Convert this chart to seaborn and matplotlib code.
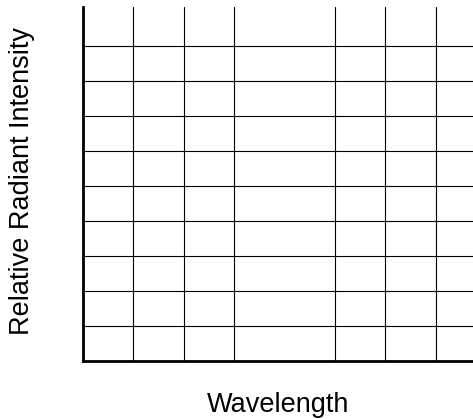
import matplotlib
matplotlib.use("Agg")
import matplotlib.pyplot as plt
import seaborn as sns

# Chart content: an empty spectral grid
x_label = "Wavelength"
y_label = "Relative Radiant Intensity"
x_grid = [1, 2, 3, 5, 6, 7]
y_grid = [1, 2, 3, 4, 5, 6, 7, 8, 9]
x_range = [0, 7.74]
y_range = [0, 10.11]

sns.set_theme(style="white")
plt.rcParams['font.family'] = ['Liberation Sans', 'DejaVu Sans']

fig = plt.figure(figsize=(4.73, 4.19), dpi=100)
ax = fig.add_axes([83 / 473, (419 - 361) / 419, 1 - 83 / 473, (361 - 7) / 419])

ax.set_xlim(*x_range)
ax.set_ylim(*y_range)
ax.set_xticks(x_grid)
ax.set_yticks(y_grid)
ax.tick_params(length=0, labelbottom=False, labelleft=False)
ax.grid(True, color="black", linewidth=0.8)

for side in ["top", "right"]:
    ax.spines[side].set_visible(False)
for side in ["left", "bottom"]:
    ax.spines[side].set_color("black")
    ax.spines[side].set_linewidth(2.0)

ax.set_xlabel(x_label, fontsize=19.5, color="black", labelpad=22)
ax.set_ylabel(y_label, fontsize=19.5, color="black", labelpad=34.5)
ax.yaxis.label.set_y(0.508)

fig.savefig("out.png", dpi=100)
